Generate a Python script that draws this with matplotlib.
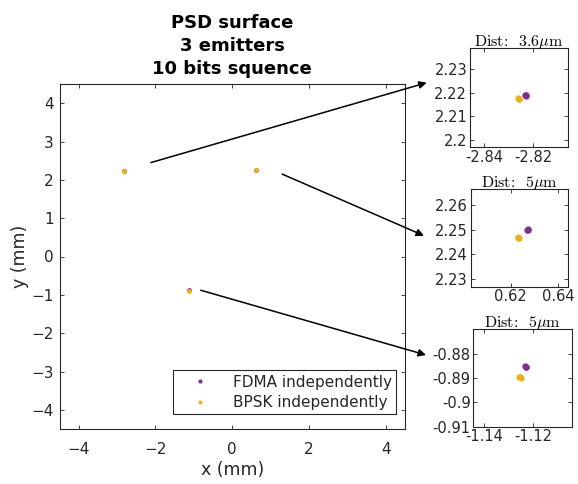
import numpy as np
import matplotlib.pyplot as plt
from matplotlib.ticker import FuncFormatter

# emitter positions (mm), a few samples per emitter
FDMA_X = [-2.8231, -2.8227, -2.8229, 0.6270, 0.6274, 0.6272, -1.1234, -1.1228, -1.1231]
FDMA_Y = [2.2190, 2.2192, 2.2187, 2.2499, 2.2497, 2.2501, -0.8850, -0.8853, -0.8855]
BPSK_X = [-2.8262, -2.8255, -2.8258, 0.6229, 0.6233, 0.6231, -1.1257, -1.1250, -1.1254]
BPSK_Y = [2.2178, 2.2172, 2.2175, 2.2467, 2.2466, 2.2469, -0.8893, -0.8899, -0.8896]

INSET_TITLES = [r"Dist:  3.6$\mu$m", r"Dist:  5$\mu$m", r"Dist:  5$\mu$m"]
INSET_XLIM = [(-2.8457, -2.8057), (0.6031, 0.6442), (-1.1443, -1.1044)]
INSET_YLIM = [(2.197, 2.239), (2.2269, 2.2665), (-0.9100, -0.8697)]
INSET_XTICKS = [[-2.84, -2.82], [0.62, 0.64], [-1.14, -1.12]]
INSET_YTICKS = [[2.20, 2.21, 2.22, 2.23], [2.23, 2.24, 2.25, 2.26], [-0.91, -0.90, -0.89, -0.88]]
ARROW_START = [(-2.12, 2.45), (1.30, 2.15), (-0.82, -0.88)]

PURPLE = "#7E2F8E"
ORANGE = "#EDB120"
GRAY = "#262626"

plt.rcParams["font.family"] = ["DejaVu Sans"]
plt.rcParams["mathtext.fontset"] = "cm"

W, H = 578, 484
fig = plt.figure(figsize=(W / 100, H / 100), dpi=100)


def px_rect(left, top, right, bottom):
    return [left / W, 1 - bottom / H, (right - left) / W, (bottom - top) / H]


def style(ax, size):
    for s in ax.spines.values():
        s.set_color(GRAY)
        s.set_linewidth(0.8)
    ax.tick_params(direction="in", top=True, right=True, colors=GRAY,
                   labelsize=size, length=3, width=0.6)


ax = fig.add_axes(px_rect(59.5, 84, 405, 429))
ax.plot(FDMA_X, FDMA_Y, ".", color=PURPLE, ms=4, label="FDMA independently")
ax.plot(BPSK_X, BPSK_Y, ".", color=ORANGE, ms=4, label="BPSK independently")
ax.set_xlim(-4.5, 4.5)
ax.set_ylim(-4.5, 4.5)
ax.set_xticks(np.arange(-4, 5, 2))
ax.set_yticks(np.arange(-4, 5, 1))
style(ax, 11)
ax.tick_params(axis="x", pad=9)
ax.tick_params(axis="y", pad=4)
ax.set_xlabel("x (mm)", fontsize=12.5, color=GRAY, labelpad=3)
ax.set_ylabel("y (mm)", fontsize=12.5, color=GRAY, labelpad=2)
ax.set_title("PSD surface\n3 emitters\n10 bits squence", fontsize=13, fontweight="bold",
             linespacing=1.35, pad=7)
leg = ax.legend(loc="lower right", bbox_to_anchor=(0.997, 0.02), fontsize=11,
                handlelength=2.9, handletextpad=0.7, borderpad=0.3, labelspacing=0.35,
                fancybox=False, framealpha=1, edgecolor=GRAY, markerscale=1.0)
leg.get_frame().set_linewidth(0.8)
for t in leg.get_texts():
    t.set_color(GRAY)

inset_px = [(470, 48, 568, 147), (470.7, 189, 568, 286.7), (473.3, 329, 571.7, 426.7)]
arrow_end_px = [(426.7, 82.7), (424, 235.7), (426, 355)]
fmt = FuncFormatter(lambda v, p: f"{v:g}")
for i, rect in enumerate(inset_px):
    a = fig.add_axes(px_rect(*rect))
    a.plot(FDMA_X, FDMA_Y, ".", color=PURPLE, ms=7)
    a.plot(BPSK_X, BPSK_Y, ".", color=ORANGE, ms=7)
    a.set_xlim(*INSET_XLIM[i])
    a.set_ylim(*INSET_YLIM[i])
    a.set_xticks(INSET_XTICKS[i])
    a.set_yticks(INSET_YTICKS[i])
    a.xaxis.set_major_formatter(fmt)
    a.yaxis.set_major_formatter(fmt)
    style(a, 10.5)
    a.tick_params(pad=2)
    a.set_title(INSET_TITLES[i], fontsize=11.5, pad=1.5, family="cmr10")

    ex, ey = arrow_end_px[i]
    ax.annotate("", xy=(ex / W, 1 - ey / H), xycoords="figure fraction",
                xytext=ARROW_START[i], textcoords="data",
                arrowprops=dict(arrowstyle="-|>", color="k", lw=1.1,
                                mutation_scale=11, shrinkA=0, shrinkB=0),
                annotation_clip=False)

fig.savefig("out.png", dpi=100)
